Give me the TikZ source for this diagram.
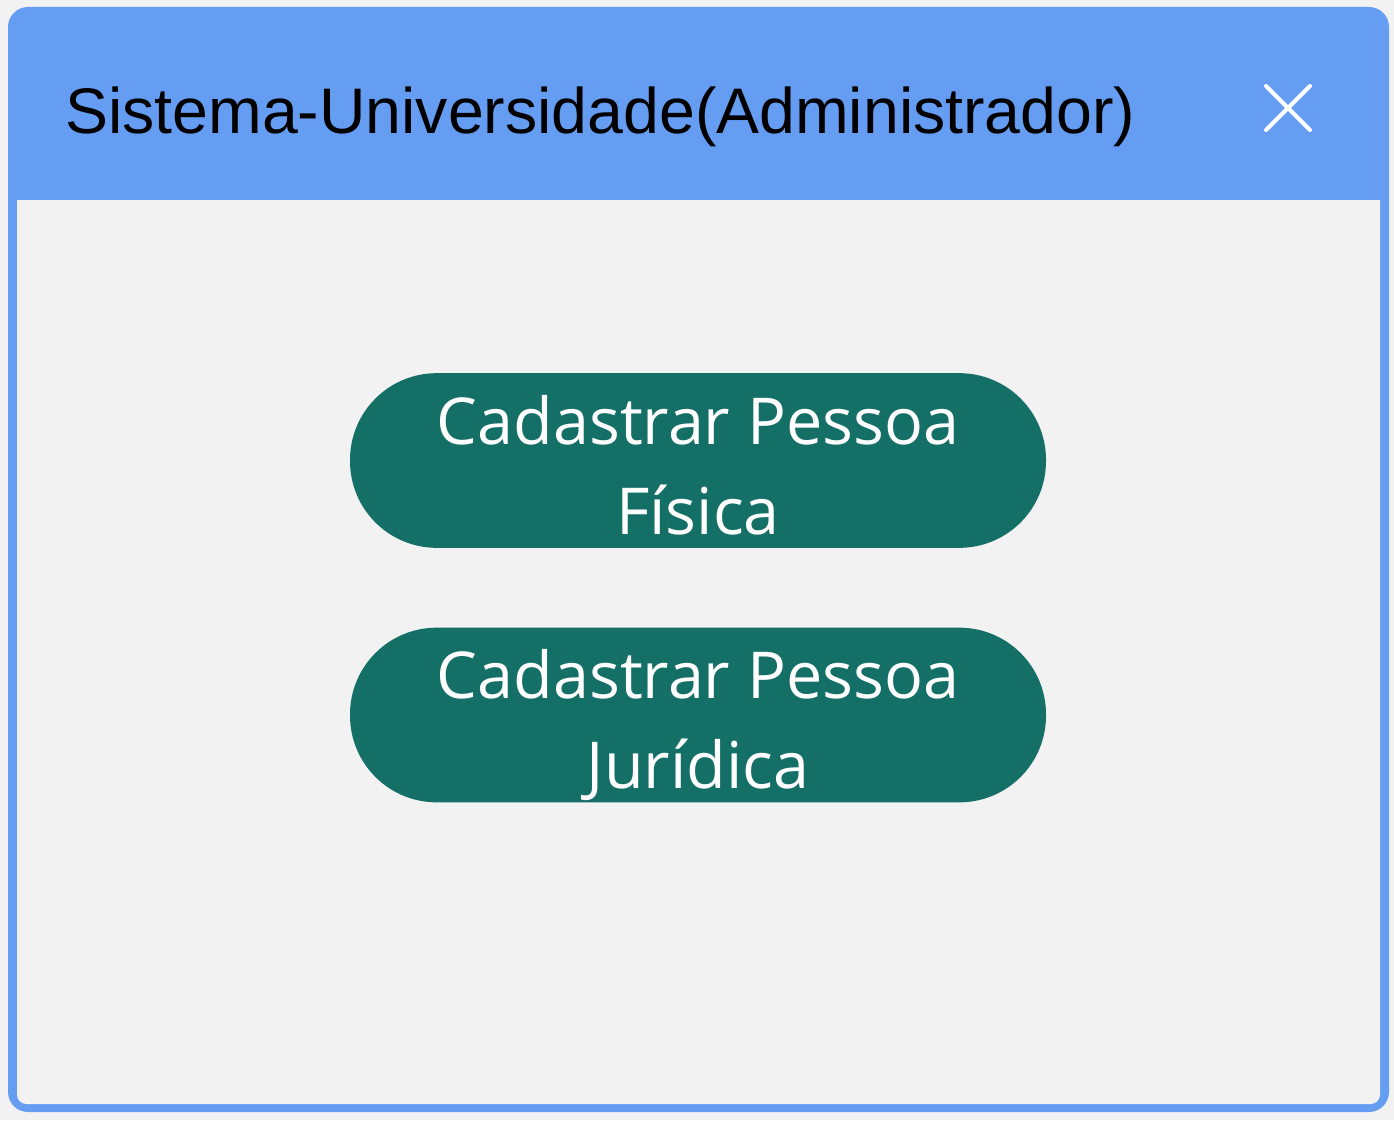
\documentclass[tikz,border=0pt]{standalone}
\usepackage{fontspec}
\setmainfont{Liberation Sans}
\newfontfamily\buttonfont{Open Sans}
\usepackage{tikz}
\usetikzlibrary{positioning,calc}
\definecolor{winblue}{HTML}{659DF2}
\definecolor{btngreen}{HTML}{146F67}
\definecolor{bodygray}{HTML}{F2F2F2}
\newcommand{\btnline}[1]{\raisebox{-3pt}[\height][0pt]{#1}}
\tikzset{%
  window frame/.style={%
    fill=winblue,
    draw=none,
    rounded corners=15pt
  },
  action button/.style={%
    fill=btngreen,
    draw=none,
    rounded corners=65pt,
    minimum width=522pt,
    minimum height=131pt,
    text=white,
    align=center,
    font=\buttonfont\fontsize{48.5}{67.5}\selectfont
  },
  close cross/.style={%
    draw=white,
    line width=3pt,
    line cap=round
  }
}
\begin{document}
\begin{tikzpicture}[x=0.75pt,y=-0.75pt]
  \fill [bodygray] (0, 0) rectangle (1394, 1120);
  \useasboundingbox (0, 0) rectangle (1394, 1120);
  % window
  \fill [window frame] (8, 7) rectangle (1389, 1112);
  \fill [bodygray] (17, 200) [rounded corners=7pt] -- (17, 1104) -- (1380, 1104) [sharp corners] -- (1380, 200) -- cycle;
  \node (title) [anchor=base west, inner sep=0pt, font=\fontsize{48.3}{58}\selectfont] at (65, 133) {Sistema-Universidade(Administrador)};
  % close icon
  \coordinate (xa) at (1266, 86);
  \coordinate (xb) at (1310, 130);
  \coordinate (xc) at (1310, 86);
  \coordinate (xd) at (1266, 130);
  \draw [close cross] (xa) -- (xb);
  \draw [close cross] (xc) -- (xd);
  % buttons
  \node (fisica) [action button] at (698, 460.5) {\btnline{Cadastrar Pessoa}\\\btnline{Física}};
  \node (juridica) [action button] at (698, 715) {\btnline{Cadastrar Pessoa}\\\btnline{Jurídica}};
\end{tikzpicture}
\end{document}
